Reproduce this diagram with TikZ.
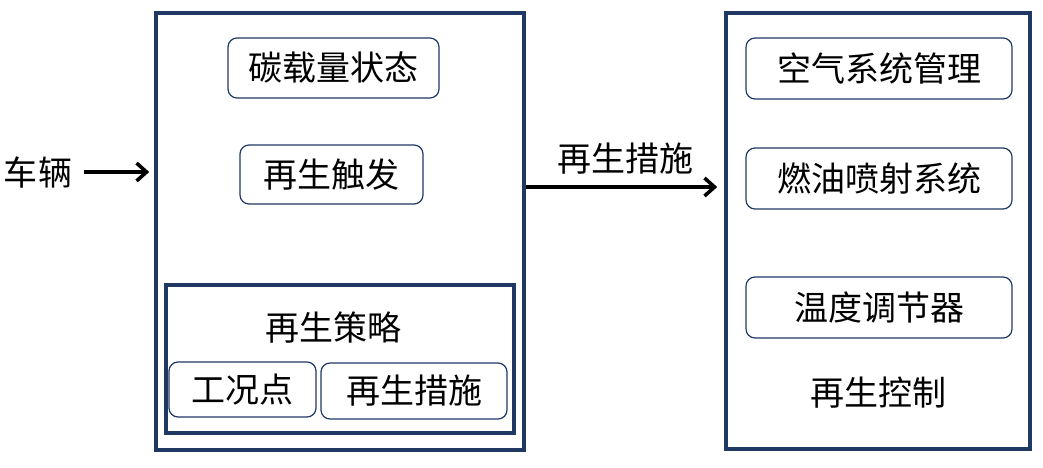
\documentclass[tikz,border=0pt]{standalone}
\usepackage{fontspec}
\setmainfont{Noto Sans CJK SC}
\usepackage{xcolor}
\usetikzlibrary{arrows.meta,positioning,calc}

\definecolor{frameblue}{HTML}{1F3864}

\begin{document}
\begin{tikzpicture}[
    x=1pt, y=-1pt,
    every node/.style={font=\fontsize{34}{38}\selectfont},
    frame/.style={draw=frameblue, line width=3.6pt, inner sep=0pt},
    box/.style={draw=frameblue, line width=1.2pt, rounded corners=9pt, inner sep=0pt},
    arrow/.style={-{Straight Barb[length=10pt,width=18pt]}, line width=3.6pt}
]
    \useasboundingbox (0,0) rectangle (1043,468);

    % left block
    \node[frame, minimum width=368pt, minimum height=437pt] (detect) at (340,231.5) {};
    \node[box, minimum width=211pt, minimum height=60pt] (carbon) at (333.5,68) {碳载量状态};
    \node[box, minimum width=183pt, minimum height=59pt] (trigger) at (331.5,174.5) {再生触发};
    \node[frame, minimum width=348pt, minimum height=148pt] (strategy) at (340,359) {};
    \node (stratlabel) at (333,328) {再生策略};
    \node[box, minimum width=147pt, minimum height=55pt] (opoint) at (242.5,389.5) {工况点};
    \node[box, minimum width=186pt, minimum height=56pt] (measure) at (414,391) {再生措施};

    % right block
    \node[frame, minimum width=304pt, minimum height=436pt] (control) at (878,231) {};
    \node[box, minimum width=266pt, minimum height=61pt] (air) at (879,68.5) {空气系统管理};
    \node[box, minimum width=266pt, minimum height=61pt] (fuel) at (879,178.5) {燃油喷射系统};
    \node[box, minimum width=266pt, minimum height=61pt] (temp) at (879,307.5) {温度调节器};
    \node (ctrllabel) at (878,393) {再生控制};

    \node (vehicle) at (38,172) {车辆};

    \draw[arrow, shorten <=8pt, shorten >=5pt] (vehicle.east) -- (vehicle.east -| detect.west);
    \draw[arrow, shorten >=7pt] ([yshift=44.5pt]detect.east) coordinate (out)
        -- (out -| control.west) node[midway, above=8pt] (measlabel) {再生措施};
\end{tikzpicture}
\end{document}
